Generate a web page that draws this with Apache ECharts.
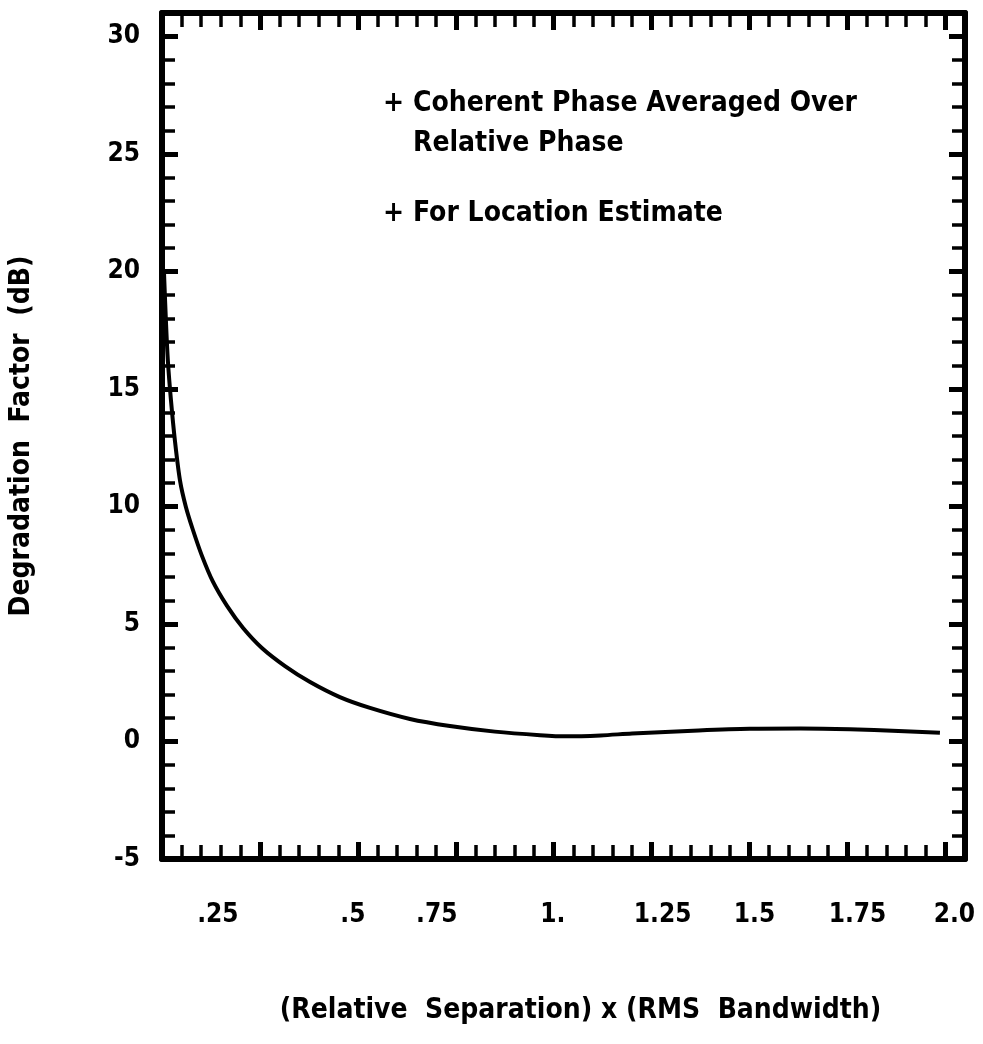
<!DOCTYPE html>
<html>
<head>
<meta charset="utf-8">
<script src="https://cdn.jsdelivr.net/npm/echarts@6/dist/echarts.min.js"></script>
<style>
html,body{margin:0;padding:0;background:#fff;}
#chart{width:983px;height:1044px;}
</style>
</head>
<body>
<div id="chart"></div>
<script>
// ---- data ----
var xValues = [0.005, 0.010, 0.015, 0.023, 0.033, 0.046, 0.061, 0.079, 0.102, 0.130, 0.166, 0.207, 0.255, 0.314, 0.378, 0.454, 0.531, 0.633, 0.735, 0.850, 0.965, 1.033, 1.120, 1.200, 1.370, 1.500, 1.630, 1.756, 1.880, 1.986];
var yValues = [20.0, 17.9, 16.2, 14.5, 12.8, 11.1, 9.98, 9.0, 7.9, 6.8, 5.77, 4.83, 3.98, 3.21, 2.53, 1.89, 1.43, 0.96, 0.66, 0.42, 0.27, 0.22, 0.26, 0.34, 0.47, 0.54, 0.55, 0.52, 0.45, 0.37];
var xTickValues = [0.25, 0.5, 0.75, 1.0, 1.25, 1.5, 1.75, 2.0];
var xTickLabels = ['.25', '.5', '.75', '1.', '1.25', '1.5', '1.75', '2.0'];
var yTickValues = [-5, 0, 5, 10, 15, 20, 25, 30];
var yTickLabels = ['-5', '0', '5', '10', '15', '20', '25', '30'];
var legendLines = ['+', 'Coherent Phase Averaged Over', 'Relative Phase', '+', 'For Location Estimate'];
var xTitle = '(Relative  Separation) x (RMS  Bandwidth)';
var yTitle = 'Degradation  Factor  (dB)';

// hand-lettered label shifts seen in the reference (style only, px)
var xLabelShift = [-42, -5, -19, -1, 11, 5, 10, 9];

var FONT = 'DejaVu Sans Condensed';
function idxOf(vals, v) {
  for (var i = 0; i < vals.length; i++) if (Math.abs(v - vals[i]) < 1e-6) return i;
  return -1;
}
var xRich = {};
xLabelShift.forEach(function (s, i) {
  xRich['l' + i] = { color: '#000', fontFamily: FONT, fontWeight: 'bold', fontSize: 26,
    padding: s >= 0 ? [0, 0, 0, 2 * s] : [0, -2 * s, 0, 0] };
});
function xFormatter(v) {
  var i = idxOf(xTickValues, v);
  return i < 0 ? '' : '{l' + i + '|' + xTickLabels[i] + '}';
}
function yFormatter(v) {
  var i = idxOf(yTickValues, v);
  return i < 0 ? '' : yTickLabels[i];
}
var seriesData = xValues.map(function (x, i) { return [x, yValues[i]]; });

var X_MIN = 0, X_MAX = 2.05, Y_MIN = -5, Y_MAX = 31;
function minorX(pos) {
  return {
    type: 'value', position: pos, min: X_MIN, max: X_MAX, interval: 0.05,
    axisLine: { show: true, onZero: false, lineStyle: { color: '#000', width: 6, cap: 'round' } },
    axisTick: { show: true, inside: true, length: 14, lineStyle: { color: '#000', width: 3.5 } },
    axisLabel: { show: false }, splitLine: { show: false }
  };
}
function majorX(pos, withLabels) {
  var a = {
    type: 'value', position: pos, min: X_MIN, max: X_MAX, interval: 0.25,
    axisLine: { show: false, onZero: false },
    axisTick: { show: true, inside: true, length: 17, lineStyle: { color: '#000', width: 5 } },
    axisLabel: { show: !!withLabels, formatter: xFormatter, rich: xRich, margin: 43,
      color: '#000', fontFamily: FONT, fontWeight: 'bold', fontSize: 26, showMinLabel: false, showMaxLabel: false,
      hideOverlap: false },
    splitLine: { show: false }
  };
  if (withLabels) {
    a.name = xTitle; a.nameLocation = 'middle'; a.nameGap = 138;
    a.nameTextStyle = { color: '#000', fontFamily: FONT, fontWeight: 'bold', fontSize: 28, padding: [0, 0, 0, 34] };
  }
  return a;
}
function minorY(pos) {
  return {
    type: 'value', position: pos, min: Y_MIN, max: Y_MAX, interval: 1,
    axisLine: { show: true, onZero: false, lineStyle: { color: '#000', width: 6, cap: 'round' } },
    axisTick: { show: true, inside: true, length: 13, lineStyle: { color: '#000', width: 3.5 } },
    axisLabel: { show: false }, splitLine: { show: false }
  };
}
function majorY(pos, withLabels) {
  var a = {
    type: 'value', position: pos, min: Y_MIN, max: Y_MAX, interval: 5,
    axisLine: { show: false, onZero: false },
    axisTick: { show: true, inside: true, length: 16, lineStyle: { color: '#000', width: 5 } },
    axisLabel: { show: !!withLabels, formatter: yFormatter, margin: 22,
      color: '#000', fontFamily: FONT, fontWeight: 'bold', fontSize: 26, showMaxLabel: false },
    splitLine: { show: false }
  };
  if (withLabels) {
    a.name = yTitle; a.nameLocation = 'middle'; a.nameGap = 126; a.nameRotate = 90;
    a.nameTextStyle = { color: '#000', fontFamily: FONT, fontWeight: 'bold', fontSize: 28 };
  }
  return a;
}

var txtStyle = { fill: '#000', font: 'bold 28px "' + FONT + '"' };
var chart = echarts.init(document.getElementById('chart'), null, { renderer: 'canvas' });
chart.setOption({
  backgroundColor: '#fff',
  animation: false,
  grid: { left: 162, right: 18, top: 13, bottom: 185, containLabel: false },
  xAxis: [minorX('bottom'), majorX('bottom', true), minorX('top'), majorX('top', false)],
  yAxis: [minorY('left'), majorY('left', true), minorY('right'), majorY('right', false)],
  graphic: [
    { type: 'text', left: 383, top: 90, style: Object.assign({ text: legendLines[0] }, txtStyle) },
    { type: 'text', left: 413, top: 90, style: Object.assign({ text: legendLines[1] }, txtStyle) },
    { type: 'text', left: 413, top: 130, style: Object.assign({ text: legendLines[2] }, txtStyle) },
    { type: 'text', left: 383, top: 200, style: Object.assign({ text: legendLines[3] }, txtStyle) },
    { type: 'text', left: 413, top: 200, style: Object.assign({ text: legendLines[4] }, txtStyle) }
  ],
  series: [{
    type: 'line', xAxisIndex: 0, yAxisIndex: 0, data: seriesData, smooth: 0.3,
    showSymbol: false, symbol: 'none',
    lineStyle: { color: '#000', width: 4 }
  }]
});
</script>
</body>
</html>
